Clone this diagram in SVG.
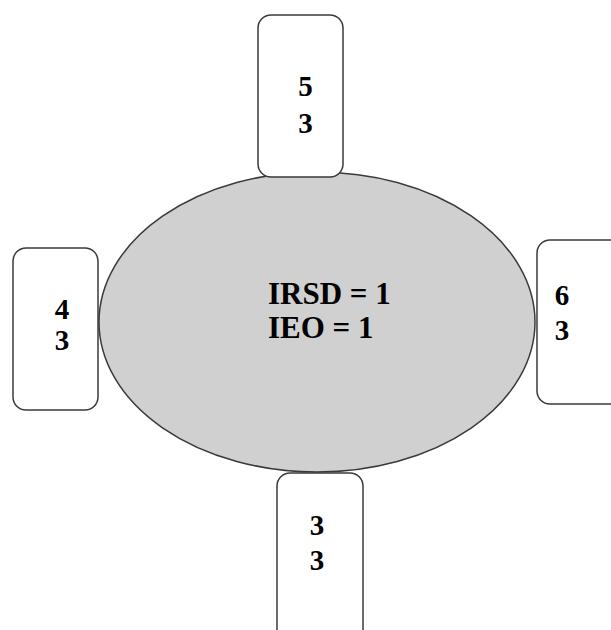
<svg xmlns="http://www.w3.org/2000/svg" width="611" height="630" viewBox="0 0 611 630">
<style>
.box{fill:#fff;stroke:#3a3a3a;stroke-width:1.5}
.ell{fill:#d0d0d0;stroke:#3a3a3a;stroke-width:1.5}
.t{font-family:"Liberation Serif","Times New Roman",serif;font-weight:bold;font-size:29px;fill:#000}
.c{font-size:31px}
</style>
<rect width="611" height="630" fill="#fff"/>
<g id="center">
<ellipse class="ell" cx="317" cy="322" rx="218" ry="150"/>
<text class="t c" x="268" y="304">IRSD = 1</text>
<text class="t c" x="268" y="338">IEO = 1</text>
</g>
<g id="connectors"></g>
<g id="node-top">
<rect class="box" x="258" y="15" width="85" height="162" rx="13"/>
<text class="t" x="305.5" y="96" text-anchor="middle">5</text>
<text class="t" x="305.5" y="133" text-anchor="middle">3</text>
</g>
<g id="node-left">
<rect class="box" x="13" y="248" width="85" height="162" rx="13"/>
<text class="t" x="62" y="319" text-anchor="middle">4</text>
<text class="t" x="62" y="350" text-anchor="middle">3</text>
</g>
<g id="node-right">
<rect class="box" x="537" y="240" width="90" height="164" rx="13"/>
<text class="t" x="562" y="305" text-anchor="middle">6</text>
<text class="t" x="562" y="340" text-anchor="middle">3</text>
</g>
<g id="node-bottom">
<rect class="box" x="277" y="473" width="86" height="170" rx="13"/>
<text class="t" x="317" y="535" text-anchor="middle">3</text>
<text class="t" x="317" y="570" text-anchor="middle">3</text>
</g>
</svg>
